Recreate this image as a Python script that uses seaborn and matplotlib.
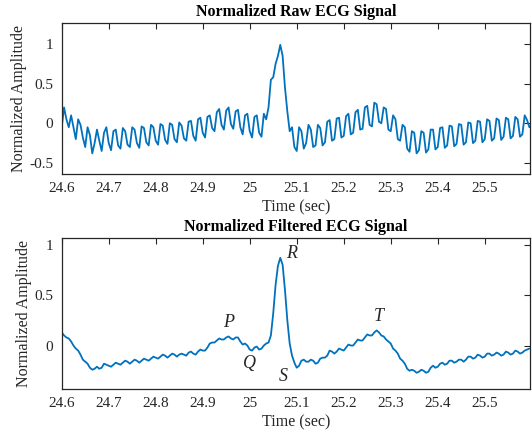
import numpy as np
import pandas as pd
import matplotlib
matplotlib.use("Agg")
import matplotlib.pyplot as plt
import seaborn as sns

# ---- data (sample step 5 ms) ----
t_start = 24.6
t_step = 0.005

raw_ecg = [
    -0.05, 0.20, 0.05, -0.05, 0.10, -0.05, -0.20, 0.05, -0.02, -0.18,
    -0.30, -0.05, -0.15, -0.38, -0.25, -0.08, -0.22, -0.35, -0.12, -0.05,
    -0.25, -0.34, -0.10, -0.08, -0.28, -0.32, -0.06, -0.10, -0.27, -0.30,
    -0.05, -0.08, -0.25, -0.31, -0.04, -0.06, -0.24, -0.28, -0.02, -0.05,
    -0.22, -0.27, -0.01, -0.03, -0.21, -0.26, 0.00, -0.02, -0.20, -0.24,
    0.01, -0.03, -0.19, -0.22, 0.02, 0.03, -0.16, -0.22, 0.05, 0.07,
    -0.12, -0.18, 0.08, 0.10, -0.06, -0.10, 0.14, 0.18, -0.02, -0.08,
    0.16, 0.20, -0.01, -0.07, 0.15, 0.17, -0.05, -0.14, 0.10, 0.12,
    -0.10, -0.18, 0.08, 0.10, -0.12, -0.17, 0.12, 0.05, 0.20, 0.55,
    0.58, 0.75, 0.85, 0.99, 0.85, 0.45, 0.15, -0.10, -0.05, -0.30,
    -0.35, -0.05, -0.10, -0.32, -0.25, -0.02, -0.08, -0.30, -0.28, -0.02,
    -0.06, -0.28, -0.24, 0.02, 0.04, -0.22, -0.20, 0.06, 0.07, -0.18,
    -0.16, 0.09, 0.12, -0.14, -0.12, 0.14, 0.17, -0.08, -0.07, 0.20,
    0.22, -0.02, -0.04, 0.26, 0.24, 0.02, 0.00, 0.20, 0.18, -0.08,
    -0.10, 0.10, 0.05, -0.20, -0.22, -0.02, -0.05, -0.32, -0.36, -0.10,
    -0.12, -0.38, -0.34, -0.10, -0.12, -0.37, -0.33, -0.08, -0.08, -0.33,
    -0.30, -0.06, -0.05, -0.31, -0.28, -0.03, -0.04, -0.29, -0.26, -0.01,
    -0.02, -0.27, -0.24, 0.01, 0.00, -0.25, -0.22, 0.03, 0.02, -0.24,
    -0.20, 0.05, 0.03, -0.22, -0.19, 0.06, 0.04, -0.21, -0.17, 0.07,
    0.05, -0.19, -0.16, 0.08, 0.05, -0.17, -0.14, 0.10, 0.04, -0.05,
]

filtered_ecg = [
    0.13, 0.10, 0.08, 0.07, 0.04, 0.00, -0.03, -0.05, -0.09, -0.14,
    -0.16, -0.18, -0.22, -0.24, -0.23, -0.21, -0.23, -0.22, -0.18, -0.19,
    -0.20, -0.21, -0.19, -0.17, -0.18, -0.19, -0.17, -0.15, -0.16, -0.18,
    -0.16, -0.14, -0.15, -0.17, -0.15, -0.13, -0.14, -0.15, -0.13, -0.11,
    -0.12, -0.13, -0.11, -0.09, -0.10, -0.12, -0.10, -0.08, -0.09, -0.11,
    -0.09, -0.08, -0.09, -0.10, -0.07, -0.06, -0.08, -0.09, -0.06, -0.04,
    -0.05, -0.05, -0.02, 0.02, 0.03, 0.03, 0.05, 0.07, 0.06, 0.06,
    0.08, 0.09, 0.07, 0.06, 0.08, 0.08, 0.04, 0.01, 0.02, 0.00,
    -0.04, -0.05, -0.02, -0.01, -0.04, -0.03, 0.00, 0.02, 0.03, 0.10,
    0.32, 0.60, 0.79, 0.87, 0.80, 0.55, 0.25, 0.02, -0.10, -0.17,
    -0.22, -0.20, -0.15, -0.14, -0.16, -0.16, -0.14, -0.15, -0.18, -0.17,
    -0.13, -0.12, -0.12, -0.10, -0.05, -0.06, -0.08, -0.06, -0.03, -0.04,
    -0.05, -0.02, 0.01, 0.00, 0.00, 0.03, 0.06, 0.05, 0.05, 0.08,
    0.11, 0.10, 0.10, 0.13, 0.15, 0.13, 0.10, 0.09, 0.06, 0.04,
    0.02, -0.03, -0.05, -0.08, -0.13, -0.15, -0.18, -0.23, -0.25, -0.24,
    -0.25, -0.27, -0.26, -0.24, -0.25, -0.27, -0.26, -0.22, -0.20, -0.22,
    -0.21, -0.18, -0.17, -0.19, -0.18, -0.15, -0.15, -0.17, -0.16, -0.14,
    -0.14, -0.16, -0.14, -0.11, -0.11, -0.13, -0.12, -0.09, -0.10, -0.12,
    -0.11, -0.08, -0.08, -0.10, -0.09, -0.07, -0.08, -0.10, -0.09, -0.06,
    -0.07, -0.09, -0.08, -0.05, -0.06, -0.08, -0.07, -0.05, -0.04, -0.03,
]

x_ticks = [24.6, 24.7, 24.8, 24.9, 25.0, 25.1, 25.2, 25.3, 25.4, 25.5]
x_tick_labels = ["24.6", "24.7", "24.8", "24.9", "25", "25.1", "25.2", "25.3", "25.4", "25.5"]
top_y_ticks = [-0.5, 0, 0.5, 1]
top_y_labels = ["-0.5", "0", "0.5", "1"]
bot_y_ticks = [0, 0.5, 1]
bot_y_labels = ["0", "0.5", "1"]

wave_labels = ["P", "Q", "R", "S", "T"]
wave_x = [24.956, 25.0, 25.09, 25.071, 25.274]
wave_y = [0.23, -0.18, 0.915, -0.31, 0.29]

time = t_start + t_step * np.arange(len(raw_ecg))
df = pd.DataFrame({"time": time, "raw": raw_ecg, "filtered": filtered_ecg})

# ---- style ----
sns.set_style("white")
plt.rcParams["font.family"] = ["Liberation Serif", "DejaVu Serif"]

line_color = "#0072BD"
axis_color = "#262626"

fig = plt.figure(figsize=(5.32, 4.36), dpi=100)
ax1 = fig.add_axes([0.116, 0.601, 0.880, 0.347])
ax2 = fig.add_axes([0.116, 0.108, 0.880, 0.347])

sns.lineplot(data=df, x="time", y="raw", ax=ax1, color=line_color, linewidth=1.3)
sns.lineplot(data=df, x="time", y="filtered", ax=ax2, color=line_color, linewidth=1.3)

def style_axes(ax, yticks, ylabels, ylim, title, ylabel_x):
    ax.set_xlim(24.6, 25.596)
    ax.set_ylim(*ylim)
    ax.set_xticks(x_ticks)
    ax.set_xticklabels(x_tick_labels)
    ax.set_yticks(yticks)
    ax.set_yticklabels(ylabels)
    ax.tick_params(direction="in", length=4, width=0.8, colors=axis_color,
                   labelsize=11, top=True, right=True, pad=6)
    for s in ax.spines.values():
        s.set_visible(True)
        s.set_color(axis_color)
        s.set_linewidth(0.9)
    ax.set_title(title, fontsize=11.5, fontweight="bold", pad=5, color="black")
    ax.set_xlabel("Time (sec)", fontsize=11.5, color=axis_color, labelpad=3)
    ax.set_ylabel("Normalized Amplitude", fontsize=11.5, color=axis_color)
    ax.yaxis.set_label_coords(ylabel_x, 0.5)
    ax.grid(False)

style_axes(ax1, top_y_ticks, top_y_labels, (-0.64, 1.27), "Normalized Raw ECG Signal", -0.074)
style_axes(ax2, bot_y_ticks, bot_y_labels, (-0.43, 1.07), "Normalized Filtered ECG Signal", -0.063)

for lab, xx, yy in zip(wave_labels, wave_x, wave_y):
    ax2.text(xx, yy, lab, fontsize=13, fontstyle="italic", ha="center", va="center",
             color=axis_color)

fig.savefig("out.png", dpi=100)
